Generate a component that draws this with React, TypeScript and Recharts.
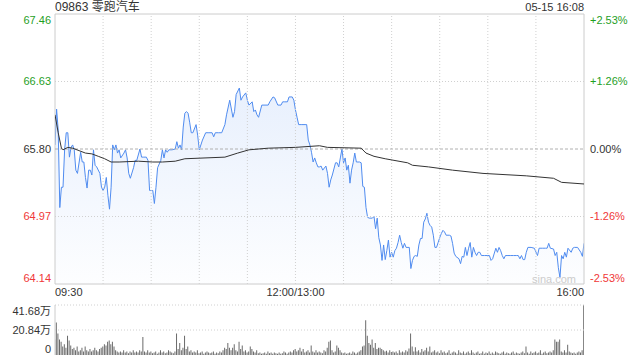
import React from 'react';
import { ComposedChart, Area, Line, Bar, XAxis, YAxis, ReferenceLine, ReferenceArea } from 'recharts';

const FONT = "Arial, 'Liberation Sans', 'Noto Sans CJK SC', sans-serif";
const GREEN = '#1fa01f';
const RED = '#f03838';

const stockName = '09863 零跑汽车';
const timestamp = '05-15 16:08';
const prevClose = 65.8;
const priceTicks = [64.14, 64.97, 65.8, 66.63, 67.46];
const pctLabels = ['-2.53%', '-1.26%', '0.00%', '+1.26%', '+2.53%'];
const timeTicks = [0, 150, 330];
const timeLabels = ['09:30', '12:00/13:00', '16:00'];
const gridMinutes = [30, 60, 90, 120, 150, 180, 210, 240, 270, 300];
const volumeTicks = [0, 20.84, 41.68];
const volumeLabels = ['0', '20.84万', '41.68万'];

// minutes since 09:30 (lunch break removed) and last price read at that minute
const priceMinutes = [
  0, 1, 2, 3, 4, 5, 6, 7, 8, 9, 10, 11, 12, 13, 14, 16, 17, 18, 19, 20,
  21, 22, 23, 24, 25, 26, 28, 29, 30, 31, 32, 33, 34, 35, 36, 37, 38, 39, 40, 41,
  43, 44, 45, 46, 47, 49, 50, 51, 53, 54, 55, 57, 58, 59, 61, 62, 63, 64, 66, 67,
  68, 69, 70, 71, 73, 75, 76, 77, 78, 79, 80, 81, 82, 83, 84, 85, 86, 88, 89, 90,
  92, 94, 96, 98, 99, 100, 102, 104, 106, 107, 109, 111, 112, 113, 115, 116, 117, 119, 120, 121,
  123, 124, 125, 126, 127, 129, 131, 133, 134, 136, 137, 139, 141, 142, 143, 145, 146, 148, 149, 150,
  151, 152, 154, 156, 157, 158, 159, 160, 161, 162, 163, 164, 165, 166, 167, 169, 170, 171, 172, 173,
  175, 176, 177, 178, 179, 180, 181, 182, 183, 184, 185, 186, 187, 188, 190, 191, 192, 193, 194, 195,
  196, 198, 199, 200, 201, 202, 203, 204, 205, 206, 207, 208, 209, 210, 211, 212, 213, 214, 215, 216,
  217, 218, 219, 221, 222, 223, 224, 225, 226, 227, 228, 229, 230, 231, 232, 233, 234, 235, 236, 237,
  238, 239, 240, 241, 242, 243, 244, 246, 247, 248, 249, 250, 252, 253, 254, 255, 256, 257, 258, 259,
  260, 261, 262, 263, 264, 265, 266, 268, 270, 271, 272, 273, 275, 276, 277, 278, 279, 280, 281, 282,
  284, 286, 288, 289, 290, 291, 292, 293, 294, 295, 297, 299, 301, 302, 304, 306, 307, 308, 309, 311,
  312, 313, 314, 315, 316, 317, 318, 319, 320, 322, 323, 324, 326, 328, 329, 330,
];
const prices = [
  65.85, 66.29, 66.03, 65.08, 65.33, 65.33, 65.79, 66.0, 66.0, 65.7, 65.82, 65.85, 65.79, 65.54, 65.5, 65.76, 65.64, 65.64, 65.45, 65.32,
  65.54, 65.54, 65.48, 65.79, 65.6, 65.58, 65.5, 65.33, 65.29, 65.33, 65.45, 65.23, 65.06, 65.33, 65.85, 65.79, 65.85, 65.75, 65.79, 65.69,
  65.75, 65.79, 65.69, 65.5, 65.44, 65.57, 65.66, 65.66, 65.8, 65.7, 65.7, 65.7, 65.66, 65.29, 65.29, 65.13, 65.33, 65.57, 65.66, 65.79,
  65.69, 65.79, 65.76, 65.79, 65.79, 65.8, 65.89, 65.81, 65.85, 65.79, 66.07, 66.24, 66.26, 66.24, 66.13, 66.0, 66.0, 66.1, 65.97, 65.79,
  65.91, 66.0, 66.0, 66.0, 65.95, 66.0, 66.0, 66.0, 66.1, 66.22, 66.4, 66.19, 66.26, 66.47, 66.55, 66.4, 66.44, 66.49, 66.4, 66.34,
  66.38, 66.26, 66.28, 66.22, 66.19, 66.34, 66.34, 66.34, 66.38, 66.44, 66.43, 66.34, 66.34, 66.38, 66.38, 66.38, 66.44, 66.44, 66.4, 66.28,
  66.19, 66.1, 66.1, 66.1, 66.1, 65.91, 65.85, 65.76, 65.64, 65.69, 65.63, 65.58, 65.58, 65.59, 65.54, 65.59, 65.5, 65.33, 65.42, 65.48,
  65.63, 65.63, 65.58, 65.69, 65.8, 65.63, 65.69, 65.54, 65.6, 65.38, 65.54, 65.63, 65.75, 65.64, 65.64, 65.63, 65.34, 65.33, 65.08, 64.96,
  64.95, 64.95, 64.97, 64.82, 64.95, 64.71, 64.62, 64.43, 64.62, 64.44, 64.55, 64.68, 64.47, 64.53, 64.47, 64.55, 64.58, 64.65, 64.74, 64.65,
  64.58, 64.64, 64.59, 64.59, 64.33, 64.43, 64.48, 64.49, 64.48, 64.62, 64.7, 64.7, 64.9, 64.94, 65.01, 64.9, 64.86, 64.84, 64.74, 64.59,
  64.59, 64.65, 64.71, 64.76, 64.8, 64.78, 64.74, 64.74, 64.73, 64.64, 64.52, 64.48, 64.45, 64.39, 64.48, 64.47, 64.59, 64.49, 64.58, 64.65,
  64.47, 64.59, 64.53, 64.49, 64.53, 64.53, 64.49, 64.49, 64.49, 64.49, 64.43, 64.45, 64.58, 64.53, 64.59, 64.55, 64.49, 64.45, 64.49, 64.49,
  64.49, 64.49, 64.49, 64.49, 64.45, 64.49, 64.44, 64.44, 64.53, 64.59, 64.59, 64.58, 64.49, 64.58, 64.58, 64.58, 64.58, 64.64, 64.58, 64.57,
  64.49, 64.53, 64.34, 64.22, 64.49, 64.45, 64.53, 64.47, 64.58, 64.53, 64.58, 64.59, 64.59, 64.53, 64.48, 64.64,
];

// average price line
const avgMinutes = [0, 2, 4, 5, 8, 11, 15, 19, 23, 27, 31, 35, 40, 52, 61, 67, 75, 81, 106, 114, 121, 133, 150, 165, 170, 191, 194, 199, 206, 220, 223, 233, 248, 267, 294, 311, 316, 330];
const avgPrices = [66.22, 66.0, 65.81, 65.79, 65.82, 65.81, 65.78, 65.75, 65.74, 65.71, 65.68, 65.64, 65.64, 65.65, 65.64, 65.64, 65.65, 65.68, 65.7, 65.75, 65.79, 65.81, 65.82, 65.84, 65.82, 65.81, 65.75, 65.71, 65.68, 65.63, 65.6, 65.58, 65.54, 65.5, 65.47, 65.44, 65.39, 65.37];

// volume per minute, in 万 shares (last bar = closing auction)
const volumes = [
  13, 27, 18, 13, 11, 7, 9, 6, 16, 12,
  8, 5, 6, 4, 7, 3, 4, 6, 3, 7,
  4, 3, 5, 3, 4, 6, 4, 3, 5, 6,
  7, 9, 8, 11, 12, 9, 11, 7, 4, 3,
  2, 3, 2, 4, 2, 3, 1.5, 3, 2, 4,
  2, 3, 2, 4, 3, 15, 3, 2, 4, 2,
  3, 1.5, 2, 3, 1, 2, 4, 2, 3, 1.5,
  2, 4, 3, 2, 1.5, 3, 18, 5, 10, 4,
  6, 16, 5, 7, 3, 4, 2, 3, 2, 4,
  1.5, 2, 3, 1, 2, 3, 2, 1.5, 2, 3,
  1, 2, 1.5, 3, 2, 4, 6, 5, 10, 6,
  4, 6, 9, 4, 3, 11, 5, 8, 3, 4,
  2, 3, 7, 5, 3, 2, 4, 1.5, 2, 1,
  1.5, 2, 1, 3, 1.5, 2, 1, 2, 1.5, 1,
  2, 1, 1.5, 3, 2, 1, 2, 3, 2, 4,
  5, 3, 4, 6, 3, 5, 2, 3, 4, 2,
  8, 3, 2, 4, 2, 3, 2, 1.5, 4, 3,
  6, 11, 12, 4, 2, 3, 8, 6, 4, 2,
  1.5, 2, 1, 1.5, 2, 1, 3, 2, 1, 2,
  3, 4, 7, 8, 29, 16, 10, 8.5, 13, 6,
  10, 5, 6, 6, 5, 4, 3, 3.5, 2, 4,
  2.5, 3, 2, 3, 1.5, 4, 2, 3, 2, 4,
  3, 5.5, 18, 7, 3, 6.5, 3, 4, 2, 5,
  3, 4, 6, 3, 7, 2, 3, 4, 2, 3,
  1.5, 4, 2, 3, 1.5, 2, 4, 1, 2, 3,
  2, 1, 4, 2, 1.5, 3, 1, 2, 3, 1.5,
  4, 2, 1, 2, 3, 1, 1.5, 3, 1, 2,
  1.5, 3, 1, 2, 1, 3, 2, 1.5, 1, 2,
  3, 1, 2, 1.5, 1, 2, 3, 1, 2, 1.5,
  1, 2, 3, 1.5, 7, 2, 1, 3, 1.5, 2,
  3, 1.5, 2, 4, 1, 2, 3, 1.5, 2, 3,
  2, 4, 13, 11, 11, 13, 3, 2, 4, 2,
  8.5, 3, 2, 1.5, 2, 1, 2, 3, 2, 4,
  41.68,
];

type Row = { t: number; vol: number; price: number | null; avg: number | null };
const rows: Row[] = volumes.map((vol, t) => ({ t, vol, price: null, avg: null }));
priceMinutes.forEach((t, i) => { rows[t].price = prices[i]; });
avgMinutes.forEach((t, i) => { rows[t].avg = avgPrices[i]; });

const tickIndex = (list: number[], v: number) => list.findIndex((p) => Math.abs(p - v) < 0.001);
const priceColor = (v: number) => (v > prevClose + 0.001 ? GREEN : v < prevClose - 0.001 ? RED : '#333');
// first and last labels are pulled inside the plot
const edgeShift = (i: number, n: number) => (i === n - 1 ? 6 : i === 0 ? -6 : 0);

const PriceTick = ({ x, y, payload }: any) => {
  const i = tickIndex(priceTicks, payload.value);
  return (
    <text x={x} y={y + edgeShift(i, priceTicks.length)} dy="0.35em" textAnchor="end" fill={priceColor(payload.value)} fontSize={11} fontFamily={FONT}>
      {payload.value.toFixed(2)}
    </text>
  );
};

const PctTick = ({ x, y, payload }: any) => {
  const i = tickIndex(priceTicks, payload.value);
  return (
    <text x={x} y={y + edgeShift(i, priceTicks.length)} dy="0.35em" textAnchor="start" fill={priceColor(payload.value)} fontSize={11} fontFamily={FONT}>
      {pctLabels[i]}
    </text>
  );
};

const TimeTick = ({ x, y, payload }: any) => {
  const i = tickIndex(timeTicks, payload.value);
  const anchor = i === 0 ? 'start' : i === timeTicks.length - 1 ? 'end' : 'middle';
  return (
    <text x={x} y={y} dy="0.71em" textAnchor={anchor} fill="#333" fontSize={11} fontFamily={FONT}>
      {timeLabels[i]}
    </text>
  );
};

const VolumeTick = ({ x, y, payload }: any) => {
  const i = tickIndex(volumeTicks, payload.value);
  return (
    <text x={x} y={y + edgeShift(i, volumeTicks.length)} dy="0.35em" textAnchor="end" fill="#333" fontSize={11} fontFamily={FONT}>
      {volumeLabels[i]}
    </text>
  );
};

const App: React.FC = () => {
  return (
    <div style={{ position: 'absolute', left: 0, top: 0, width: 640, height: 360, background: '#fff', fontFamily: FONT }}>
      <div style={{ position: 'absolute', left: 55, top: 0, fontSize: 12, lineHeight: '14px', color: '#333' }}>{stockName}</div>
      <div style={{ position: 'absolute', right: 56, top: 0, fontSize: 11, lineHeight: '14px', color: '#333' }}>{timestamp}</div>

      <div style={{ position: 'absolute', left: 0, top: 0 }}>
        <ComposedChart width={640} height={300} data={rows} margin={{ top: 14, right: 0, bottom: 0, left: 0 }}>
          <defs>
            <linearGradient id="priceFill" x1="0" y1="0" x2="0" y2="1">
              <stop offset="0%" stopColor="#508cf0" stopOpacity={0.22} />
              <stop offset="100%" stopColor="#508cf0" stopOpacity={0.02} />
            </linearGradient>
          </defs>
          <XAxis dataKey="t" type="number" domain={[0, 330]} ticks={timeTicks} interval={0} tick={<TimeTick />} tickLine={false} axisLine={false} tickSize={0} tickMargin={4} height={16} allowDataOverflow />
          <YAxis yAxisId="p" domain={[64.14, 67.46]} ticks={priceTicks} interval={0} tick={<PriceTick />} tickLine={false} axisLine={false} tickSize={0} tickMargin={4} width={55} allowDataOverflow />
          <YAxis yAxisId="r" orientation="right" domain={[64.14, 67.46]} ticks={priceTicks} interval={0} tick={<PctTick />} tickLine={false} axisLine={false} tickSize={0} tickMargin={6} width={56} allowDataOverflow />
          {gridMinutes.map((m) => (
            <ReferenceLine key={m} yAxisId="p" x={m} stroke="#d0d0d0" strokeDasharray="1 2" />
          ))}
          <ReferenceLine yAxisId="p" y={priceTicks[1]} stroke="#d0d0d0" strokeDasharray="1 2" />
          <ReferenceLine yAxisId="p" y={priceTicks[3]} stroke="#d0d0d0" strokeDasharray="1 2" />
          <ReferenceLine yAxisId="p" y={prevClose} stroke="#b0b0b0" strokeDasharray="3 2" />
          <Area yAxisId="p" type="linear" dataKey="price" stroke="#508cf0" strokeWidth={1} fill="url(#priceFill)" connectNulls dot={false} activeDot={false} isAnimationActive={false} />
          <Line yAxisId="r" type="linear" dataKey="avg" stroke="#333" strokeWidth={1} connectNulls dot={false} activeDot={false} isAnimationActive={false} />
          <ReferenceArea yAxisId="p" x1={0} x2={330} y1={64.14} y2={67.46} fill="none" stroke="#cccccc" ifOverflow="visible" />
        </ComposedChart>
      </div>

      <div style={{ position: 'absolute', left: 532, top: 272, fontSize: 11, lineHeight: '14px', color: '#cccccc' }}>sina.com</div>

      <div style={{ position: 'absolute', left: 0, top: 290 }}>
        <ComposedChart width={640} height={70} data={rows} margin={{ top: 15, right: 56, bottom: 5, left: 0 }}>
          <XAxis dataKey="t" type="number" domain={[0, 330]} hide allowDataOverflow />
          <YAxis domain={[0, 41.68]} ticks={volumeTicks} interval={0} tick={<VolumeTick />} tickLine={false} axisLine={{ stroke: '#cccccc' }} tickSize={0} tickMargin={4} width={55} allowDataOverflow />
          <ReferenceLine y={volumeTicks[2]} stroke="#d0d0d0" strokeDasharray="1 2" />
          <ReferenceLine y={volumeTicks[1]} stroke="#d0d0d0" strokeDasharray="1 2" />
          <Bar dataKey="vol" fill="#6a6a6a" barSize={1} isAnimationActive={false} />
        </ComposedChart>
      </div>
    </div>
  );
};

export default App;
